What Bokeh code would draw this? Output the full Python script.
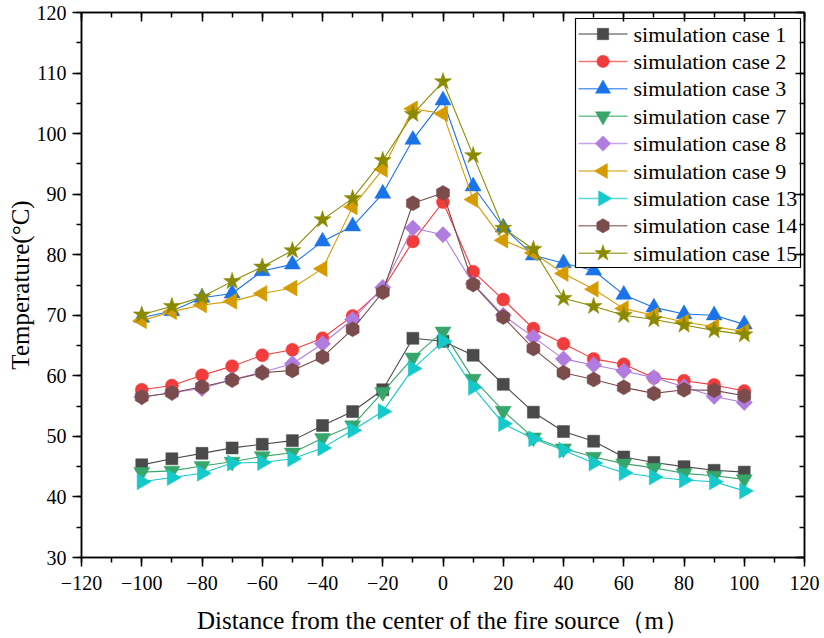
import math
from bokeh.plotting import figure
from bokeh.models import Range1d, LinearAxis, SingleIntervalTicker, CustomLabelingPolicy
from bokeh.core.properties import value
from bokeh.embed import file_html
from bokeh.resources import INLINE

x = [-100, -90, -80, -70, -60, -50, -40, -30, -20, -10, 0, 10, 20, 30, 40, 50, 60, 70, 80, 90, 100]

case1 = [45.3, 46.3, 47.2, 48.1, 48.7, 49.3, 51.8, 54.1, 57.7, 66.2, 65.7, 63.4, 58.6, 54.0, 50.8, 49.2, 46.6, 45.7, 45.0, 44.4, 44.1]
case2 = [57.7, 58.4, 60.1, 61.6, 63.4, 64.3, 66.2, 69.9, 74.3, 82.2, 88.7, 77.2, 72.6, 67.8, 65.3, 62.8, 61.9, 59.7, 59.2, 58.5, 57.5]
case3 = [69.6, 70.7, 72.9, 73.6, 77.3, 78.4, 82.2, 84.7, 90.1, 99.0, 105.5, 91.3, 84.5, 79.9, 78.6, 77.4, 73.4, 71.3, 70.2, 70.0, 68.5]
case7 = [44.1, 44.3, 45.1, 45.8, 46.7, 47.3, 49.7, 51.8, 57.3, 63.0, 67.3, 59.5, 54.2, 49.8, 48.0, 46.6, 45.5, 44.8, 43.9, 43.5, 42.9]
case8 = [56.5, 57.2, 57.9, 59.4, 60.6, 62.0, 65.3, 69.3, 74.6, 84.4, 83.3, 75.2, 70.0, 66.4, 62.8, 61.8, 60.8, 59.7, 58.2, 56.6, 55.6]
case9 = [69.1, 70.6, 71.7, 72.3, 73.6, 74.5, 77.7, 87.9, 94.1, 104.1, 103.3, 89.1, 82.4, 80.3, 76.9, 74.3, 71.1, 70.0, 68.9, 68.1, 67.3]
case13 = [42.5, 43.2, 43.9, 45.6, 45.7, 46.3, 48.1, 51.0, 54.1, 61.2, 65.7, 58.1, 52.1, 49.6, 47.7, 45.6, 44.0, 43.3, 42.8, 42.5, 41.0]
case14 = [56.5, 57.2, 58.2, 59.3, 60.5, 60.9, 63.1, 67.7, 73.8, 88.5, 90.2, 75.1, 69.7, 64.5, 60.5, 59.4, 58.1, 57.1, 57.7, 57.6, 56.7]
case15 = [70.1, 71.5, 73.0, 75.6, 78.0, 80.7, 85.8, 89.3, 95.6, 103.2, 108.6, 96.4, 84.4, 80.9, 72.8, 71.5, 70.0, 69.3, 68.4, 67.5, 66.8]

series_names = ["simulation case 1", "simulation case 2", "simulation case 3", "simulation case 7",
                "simulation case 8", "simulation case 9", "simulation case 13", "simulation case 14",
                "simulation case 15"]
series_values = [case1, case2, case3, case7, case8, case9, case13, case14, case15]
colors = ["#4a4a4a", "#f23c3c", "#1a73e8", "#38a66a", "#b07ce0", "#d49c00", "#14c9c9", "#7a4c4c", "#8a8a00"]
markers = ["square", "circle", "triangle", "inverted_triangle", "square", "triangle", "triangle", "hex", "star"]
angles = [0, 0, 0, 0, math.pi / 4, math.pi / 2, -math.pi / 2, math.pi / 6, 0]
sizes = [12, 13, 16, 16, 11.5, 16, 16, 15, 18]

x_ticks = [-120, -100, -80, -60, -40, -20, 0, 20, 40, 60, 80, 100, 120]
x_tick_labels = ["\u2212120", "\u2212100", "\u221280", "\u221260", "\u221240", "\u221220", "0", "20", "40", "60", "80", "100", "120"]

FONT = "Liberation Serif"

# layout
FW, FH = 723, 545
p = figure(frame_width=FW, frame_height=FH, output_backend="svg", toolbar_location=None,
           x_range=Range1d(-120, 120), y_range=Range1d(30, 120),
           min_border_left=81, min_border_right=20, min_border_top=12, min_border_bottom=81,
           x_axis_label="Distance from the center of the fire source\uff08m\uff09",
           y_axis_label="Temperature(\u00b0C)")
p.grid.visible = False
p.outline_line_color = "black"
p.outline_line_width = 1.5
p.background_fill_color = "white"
p.border_fill_color = "white"
p.extra_x_ranges = {"px": Range1d(0, FW)}
p.extra_y_ranges = {"py": Range1d(0, FH)}

p.xaxis.ticker = SingleIntervalTicker(interval=20, num_minor_ticks=2)
p.yaxis.ticker = SingleIntervalTicker(interval=10, num_minor_ticks=2)
p.xaxis.major_label_overrides = dict(zip(x_ticks, x_tick_labels))

for ax in (p.xaxis[0], p.yaxis[0]):
    ax.axis_line_width = 1.5
    ax.major_tick_line_width = 1.5
    ax.minor_tick_line_width = 1.5
    ax.major_tick_in = 0
    ax.major_tick_out = 9
    ax.minor_tick_in = 0
    ax.minor_tick_out = 5
    ax.major_label_text_font = FONT
    ax.major_label_text_font_size = "20px"
    ax.major_label_text_color = "black"
    ax.axis_label_text_font = FONT
    ax.axis_label_text_font_size = "25px"
    ax.axis_label_text_font_style = "normal"
    ax.axis_label_text_color = "black"
p.xaxis.major_label_standoff = 9
p.xaxis.axis_label_standoff = 14
p.yaxis.major_label_standoff = 6
p.yaxis.axis_label_standoff = 0

# mirror axes (ticks only, pointing inward, no labels)
no_labels = CustomLabelingPolicy(code="for (let i = 0; i < indices.size; i++) { indices.unset(i) } return indices")
top = LinearAxis(ticker=SingleIntervalTicker(interval=20, num_minor_ticks=2), major_label_policy=no_labels)
right = LinearAxis(ticker=SingleIntervalTicker(interval=10, num_minor_ticks=2), major_label_policy=no_labels)
for ax in (top, right):
    ax.axis_line_width = 1.5
    ax.major_tick_line_width = 1.5
    ax.minor_tick_line_width = 1.5
    ax.major_tick_in = 9
    ax.major_tick_out = 0
    ax.minor_tick_in = 5
    ax.minor_tick_out = 0
    ax.major_label_text_font_size = "1px"
    ax.major_label_standoff = 0
p.add_layout(top, "above")
p.add_layout(right, "right")

# data series
for vals, c, m, a, s in zip(series_values, colors, markers, angles, sizes):
    p.line(x, vals, line_color=c, line_width=1.1)
    p.scatter(x, vals, marker=m, size=s, angle=a, fill_color=c, line_color=c, line_width=0.5)

# legend (frame pixel coordinates, origin at the frame's bottom-left)
L_LEFT, L_RIGHT, L_BOTTOM, L_TOP = 494, 719, 290, 539
ROW0, PITCH = 523.5, 27.4
G_X0, G_X1, T_X = 497, 546, 552
n = len(series_names)
row_y = [ROW0 - i * PITCH for i in range(n)]

p.quad(left=[L_LEFT], right=[L_RIGHT], bottom=[L_BOTTOM], top=[L_TOP], fill_color="white",
       line_color="black", line_width=1.2, x_range_name="px", y_range_name="py")
for i, (name, c, m, a, s) in enumerate(zip(series_names, colors, markers, angles, sizes)):
    p.segment(x0=[G_X0], y0=[row_y[i]], x1=[G_X1], y1=[row_y[i]], line_color=c, line_width=1.5,
              line_alpha=0.7, x_range_name="px", y_range_name="py")
    p.scatter([(G_X0 + G_X1) / 2], [row_y[i]], marker=m, size=s * 0.95, angle=a, fill_color=c,
              line_color=c, line_width=0.5, x_range_name="px", y_range_name="py")
p.text(x=[T_X] * n, y=row_y, text=series_names, text_font=value(FONT), text_font_size="22px",
       text_color="black", text_align="left", text_baseline="middle", x_range_name="px", y_range_name="py")

open("out.html", "w").write(file_html(p, INLINE))
